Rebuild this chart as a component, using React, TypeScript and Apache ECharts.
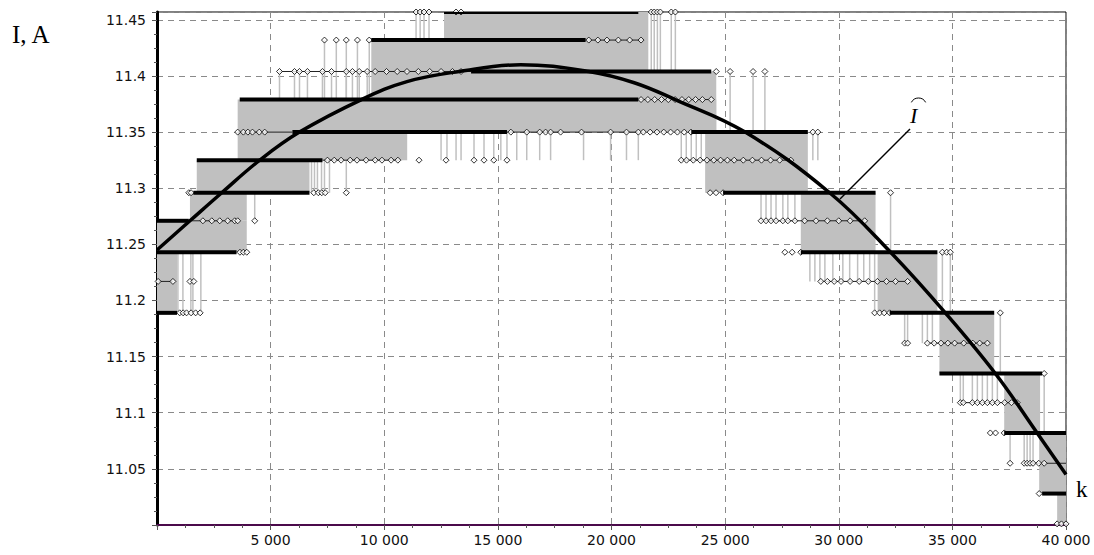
import React, { useEffect, useRef } from 'react';
import * as echarts from 'echarts';

// quantisation levels of the measured current, A (index 0 = top)
const levels = [11.457, 11.432, 11.404, 11.379, 11.35, 11.325, 11.296, 11.271, 11.243, 11.217, 11.189, 11.162, 11.135, 11.109, 11.082, 11.055, 11.028, 11.001];

// grey dither regions: [k from, k to, upper level idx, lower level idx]
const bands = [
  [0, 880, 7, 10], [0, 3950, 7, 8], [1450, 3950, 6, 7], [1750, 6710, 5, 6],
  [3550, 11010, 4, 5], [3550, 24610, 3, 4], [9430, 21620, 1, 3], [21180, 24610, 2, 4],
  [12630, 21620, 0, 1], [24120, 28640, 4, 6], [28330, 31620, 6, 8], [31710, 34340, 8, 10],
  [34430, 36840, 10, 12], [37280, 38860, 12, 14], [38820, 40000, 14, 16], [39610, 40000, 16, 17],
];

// single jumps: [k, upper level idx, lower level idx]
const spikes = [
  [920, 8, 10], [1140, 8, 10], [1490, 8, 10], [1580, 8, 10], [1930, 8, 10],
  [4300, 6, 7],
  [6800, 5, 6], [6930, 5, 6], [7060, 5, 6], [7240, 5, 6], [7370, 5, 6], [7590, 5, 6], [8330, 5, 6],
  [5390, 2, 3], [6050, 2, 3], [6270, 2, 3], [6620, 2, 3], [7280, 2, 3], [7680, 2, 3], [8330, 2, 3], [8600, 2, 3], [8900, 2, 3], [9250, 2, 3],
  [7370, 1, 3], [7890, 1, 3], [8330, 1, 3], [8820, 1, 3], [9340, 1, 3],
  [11400, 0, 1], [11580, 0, 1], [11750, 0, 1], [11970, 0, 1],
  [12500, 4, 5], [12760, 4, 5], [13160, 4, 5], [13380, 4, 5], [13950, 4, 5], [14390, 4, 5], [14820, 4, 5], [15130, 4, 5], [15400, 4, 5],
  [15830, 4, 5], [16270, 4, 5], [16840, 4, 5], [17320, 4, 5], [18770, 4, 5], [19960, 4, 5], [20660, 4, 5], [21180, 4, 5],
  [23070, 4, 5], [23290, 4, 5], [23510, 4, 5], [23730, 4, 5], [23950, 4, 5],
  [21750, 0, 2], [21880, 0, 2], [22020, 0, 2], [22150, 0, 2], [22630, 0, 2], [22810, 0, 2],
  [25220, 2, 4], [26230, 2, 4], [26750, 2, 4],
  [28860, 4, 5], [29080, 4, 5],
  [26580, 6, 7], [26800, 6, 7], [27020, 6, 7], [27240, 6, 7], [27540, 6, 7], [27760, 6, 7], [28070, 6, 7],
  [32280, 6, 8],
  [28730, 8, 9], [28950, 8, 9], [29170, 8, 9], [29390, 8, 9], [29740, 8, 9], [30180, 8, 9], [30480, 8, 9], [30830, 8, 9], [31100, 8, 9], [31360, 8, 9],
  [31580, 8, 10], [31800, 8, 10], [34560, 8, 10], [34910, 8, 10],
  [32900, 10, 11], [33030, 10, 11], [33680, 10, 11], [33900, 10, 11], [34120, 10, 11],
  [35350, 12, 13], [35480, 12, 13], [35880, 12, 13], [36100, 12, 13], [36320, 12, 13], [36540, 12, 13], [36760, 12, 13], [36980, 12, 13],
  [37110, 10, 12],
  [37540, 14, 15], [38160, 14, 15], [38290, 14, 15], [38420, 14, 15], [38550, 14, 15],
  [39040, 12, 14],
];

// long dwell on a level: [k from, k to, level idx]
const thickSegs = [
  [0, 1400, 7], [0, 3500, 8], [0, 880, 10], [1600, 6710, 6], [1750, 7280, 5],
  [3640, 21180, 3], [5960, 15400, 4], [23510, 28640, 4], [13820, 24390, 2], [9430, 18860, 1],
  [12630, 21180, 0], [24910, 31620, 6], [28330, 34340, 8], [32240, 36840, 10], [34430, 38950, 12],
  [37280, 40000, 14], [38950, 40000, 16],
];

// sparse visits of a level: [k from, k to, level idx]
const thinSegs = [
  [1400, 3550, 7], [50, 700, 9], [7280, 10660, 5], [3550, 5960, 4], [5390, 13820, 2],
  [18860, 21400, 1], [15400, 21180, 4], [21180, 24390, 3], [23070, 27890, 5], [26580, 31140, 7],
  [29210, 33030, 9], [33900, 36540, 11], [35350, 37850, 13], [38160, 40000, 15],
];

// individual samples: [k, level idx]
const samples = [
  [3650, 8], [3800, 8], [3950, 8],
  [1000, 10], [1150, 10], [1300, 10], [1500, 10], [1700, 10], [1900, 10],
  [2020, 7], [2410, 7], [2760, 7], [3110, 7], [3420, 7], [3550, 7], [4300, 7],
  [50, 9], [700, 9], [1450, 9], [1620, 9],
  [1400, 6], [1500, 6], [6900, 6], [7100, 6], [7250, 6], [7400, 6], [8330, 6],
  [7500, 5], [7800, 5], [8100, 5], [8500, 5], [8800, 5], [9200, 5], [9600, 5], [9900, 5], [10300, 5], [10600, 5],
  [11530, 5], [12720, 5], [13950, 5], [14390, 5], [14820, 5], [15400, 5],
  [3550, 4], [3800, 4], [4000, 4], [4200, 4], [4500, 4], [4740, 4],
  [15570, 4], [16270, 4], [16840, 4], [17100, 4], [17320, 4], [17760, 4], [18680, 4], [19960, 4], [20660, 4], [21180, 4],
  [21400, 4], [21700, 4], [22000, 4], [22300, 4], [22600, 4], [22900, 4], [23200, 4], [23500, 4], [28860, 4], [29080, 4],
  [5390, 2], [6050, 2], [6270, 2], [6620, 2], [7280, 2], [7680, 2], [8330, 2], [8600, 2], [8900, 2], [9250, 2],
  [9600, 2], [10100, 2], [10570, 2], [11000, 2], [11500, 2], [12000, 2], [12500, 2], [13000, 2], [13380, 2],
  [24610, 2], [25220, 2], [26230, 2], [26750, 2],
  [7370, 1], [7890, 1], [8330, 1], [8820, 1], [9340, 1],
  [19000, 1], [19400, 1], [19800, 1], [20300, 1], [20800, 1], [21300, 1],
  [11400, 0], [11580, 0], [11750, 0], [11970, 0], [13160, 0], [13380, 0],
  [21750, 0], [21880, 0], [22020, 0], [22150, 0], [22630, 0], [22810, 0],
  [21300, 3], [21600, 3], [21900, 3], [22200, 3], [22500, 3], [22800, 3], [23100, 3], [23400, 3], [23700, 3], [24000, 3], [24390, 3],
  [23070, 5], [23300, 5], [23600, 5], [23900, 5], [24200, 5], [24500, 5], [24800, 5], [25100, 5], [25400, 5], [25800, 5],
  [26200, 5], [26600, 5], [27000, 5], [27400, 5], [27890, 5],
  [24340, 6], [24600, 6], [24910, 6], [32280, 6],
  [26580, 7], [26800, 7], [27020, 7], [27240, 7], [27540, 7], [27760, 7], [28070, 7], [28500, 7], [29000, 7], [29500, 7], [30000, 7], [30500, 7], [31140, 7],
  [27630, 8], [27950, 8], [28330, 8], [34560, 8], [34750, 8], [34910, 8],
  [29210, 9], [29500, 9], [29800, 9], [30100, 9], [30500, 9], [30900, 9], [31300, 9], [31700, 9], [32100, 9], [32500, 9], [33030, 9],
  [31580, 10], [31800, 10], [32000, 10], [32240, 10], [37110, 10],
  [32900, 11], [33030, 11], [33900, 11], [34200, 11], [34500, 11], [34800, 11], [35100, 11], [35500, 11], [35900, 11], [36200, 11], [36540, 11],
  [39040, 12],
  [35350, 13], [35480, 13], [35880, 13], [36100, 13], [36320, 13], [36540, 13], [36760, 13], [36980, 13], [37300, 13], [37600, 13], [37850, 13],
  [36670, 14], [36900, 14], [37280, 14],
  [37540, 15], [38160, 15], [38290, 15], [38420, 15], [38550, 15], [38800, 15], [39040, 15],
  [38820, 16],
  [39610, 17], [39800, 17], [40000, 17],
];

// estimate Î (fitted curve)
const fitK = [0, 1450, 2850, 4520, 6270, 9000, 11000, 13300, 16000, 19000, 21000, 22800, 25880, 29600, 32280, 34690, 36890, 38730, 40000];
const fitI = [11.245, 11.271, 11.296, 11.325, 11.35, 11.379, 11.395, 11.404, 11.41, 11.404, 11.394, 11.379, 11.35, 11.296, 11.243, 11.189, 11.135, 11.082, 11.045];

const GREY = '#c0c0c0';

function hSeg(width: number, color: string) {
  return (params: any, api: any) => {
    const a = api.coord([api.value(0), api.value(2)]);
    const b = api.coord([api.value(1), api.value(2)]);
    return {
      type: 'line',
      shape: { x1: a[0], y1: a[1], x2: b[0], y2: b[1] },
      style: { stroke: color, lineWidth: width, lineCap: 'butt' },
    };
  };
}

export default function App() {
  const ref = useRef<HTMLDivElement>(null);
  useEffect(() => {
    document.body.style.margin = '0';
    const chart = echarts.init(ref.current!, null, { renderer: 'svg' });
    const axisFont = { fontFamily: 'DejaVu Sans', fontSize: 14, color: '#111' };
    const option: any = {
      animation: false,
      backgroundColor: '#fff',
      grid: { left: 157, right: 28, top: 12, bottom: 30, show: true, borderColor: '#000', borderWidth: 1, backgroundColor: 'transparent' },
      xAxis: {
        type: 'value', min: 0, max: 40000, interval: 5000,
        axisLine: { onZero: false, lineStyle: { color: '#4b0a4b', width: 2 } },
        axisTick: { length: 5, lineStyle: { color: '#555' } },
        minorTick: { show: true, splitNumber: 4, length: 3, lineStyle: { color: '#555' } },
        axisLabel: {
          ...axisFont, margin: 8, showMinLabel: false,
          formatter: (v: number) => (v === 0 ? '' : `${v / 1000} 000`),
        },
        splitLine: { show: true, lineStyle: { color: '#8a8a8a', type: [6, 5], width: 1 } },
      },
      yAxis: {
        type: 'value', min: 11.0, max: 11.457, interval: 0.05,
        axisLine: { show: true, onZero: false, lineStyle: { color: '#000', width: 3 } },
        axisTick: { show: true, length: 5, lineStyle: { color: '#555' } },
        minorTick: { show: true, splitNumber: 4, length: 3, lineStyle: { color: '#555' } },
        axisLabel: {
          ...axisFont, margin: 11, showMinLabel: false, showMaxLabel: false,
          formatter: (v: number) => (v > 11.451 || v < 11.001 ? '' : String(parseFloat(v.toFixed(2)))),
        },
        splitLine: { show: true, lineStyle: { color: '#8a8a8a', type: [6, 5], width: 1 } },
      },
      series: [
        {
          type: 'custom', clip: true, z: 1,
          encode: { x: [0, 1], y: [2, 3] },
          data: bands.map((b) => [b[0], b[1], levels[b[2]], levels[b[3]]]),
          renderItem: (params: any, api: any) => {
            const p0 = api.coord([api.value(0), api.value(2)]);
            const p1 = api.coord([api.value(1), api.value(3)]);
            return { type: 'rect', shape: { x: p0[0], y: p0[1], width: p1[0] - p0[0], height: p1[1] - p0[1] }, style: { fill: GREY } };
          },
        },
        {
          type: 'custom', clip: true, z: 2,
          encode: { x: 0, y: [1, 2] },
          data: spikes.map((s) => [s[0], levels[s[1]], levels[s[2]]]),
          renderItem: (params: any, api: any) => {
            const a = api.coord([api.value(0), api.value(1)]);
            const b = api.coord([api.value(0), api.value(2)]);
            return { type: 'line', shape: { x1: a[0], y1: a[1], x2: b[0], y2: b[1] }, style: { stroke: GREY, lineWidth: 1.5 } };
          },
        },
        {
          type: 'custom', clip: true, z: 3,
          encode: { x: [0, 1], y: 2 },
          data: thinSegs.map((s) => [s[0], s[1], levels[s[2]]]),
          renderItem: hSeg(1, '#222'),
        },
        {
          type: 'scatter', z: 4,
          symbol: 'diamond', symbolSize: 6,
          itemStyle: { color: '#fff', borderColor: '#000', borderWidth: 1 },
          data: samples.map((m) => [m[0], levels[m[1]]]),
        },
        {
          type: 'custom', clip: true, z: 5,
          encode: { x: [0, 1], y: 2 },
          data: thickSegs.map((s) => [s[0], s[1], levels[s[2]]]),
          renderItem: hSeg(4, '#000'),
        },
        {
          type: 'line', z: 6, smooth: 0.4, showSymbol: false, symbol: 'none',
          lineStyle: { color: '#000', width: 3.5 },
          data: fitK.map((k, i) => [k, fitI[i]]),
        },
      ],
      graphic: [
        { type: 'text', x: 12, y: 22, z: 10, style: { text: 'I, A', font: '25px "Liberation Serif"', fill: '#000', verticalAlign: 'top' } },
        { type: 'text', x: 1076, y: 478, z: 10, style: { text: 'k', font: '23px "Liberation Serif"', fill: '#000', verticalAlign: 'top' } },
        { type: 'text', x: 910, y: 104, z: 10, style: { text: 'I', font: 'italic 22px "Liberation Serif"', fill: '#000', verticalAlign: 'top' } },
        { type: 'arc', z: 10, shape: { cx: 918.5, cy: 106, r: 8, startAngle: Math.PI * 1.15, endAngle: Math.PI * 1.85, clockwise: true }, style: { stroke: '#000', lineWidth: 1, fill: 'none' } },
        { type: 'line', z: 10, shape: { x1: 910, y1: 129, x2: 840, y2: 199 }, style: { stroke: '#000', lineWidth: 1.5 } },
      ],
    };
    chart.setOption(option);
    return () => chart.dispose();
  }, []);
  return <div ref={ref} style={{ width: 1094, height: 555, background: '#fff' }} />;
}
